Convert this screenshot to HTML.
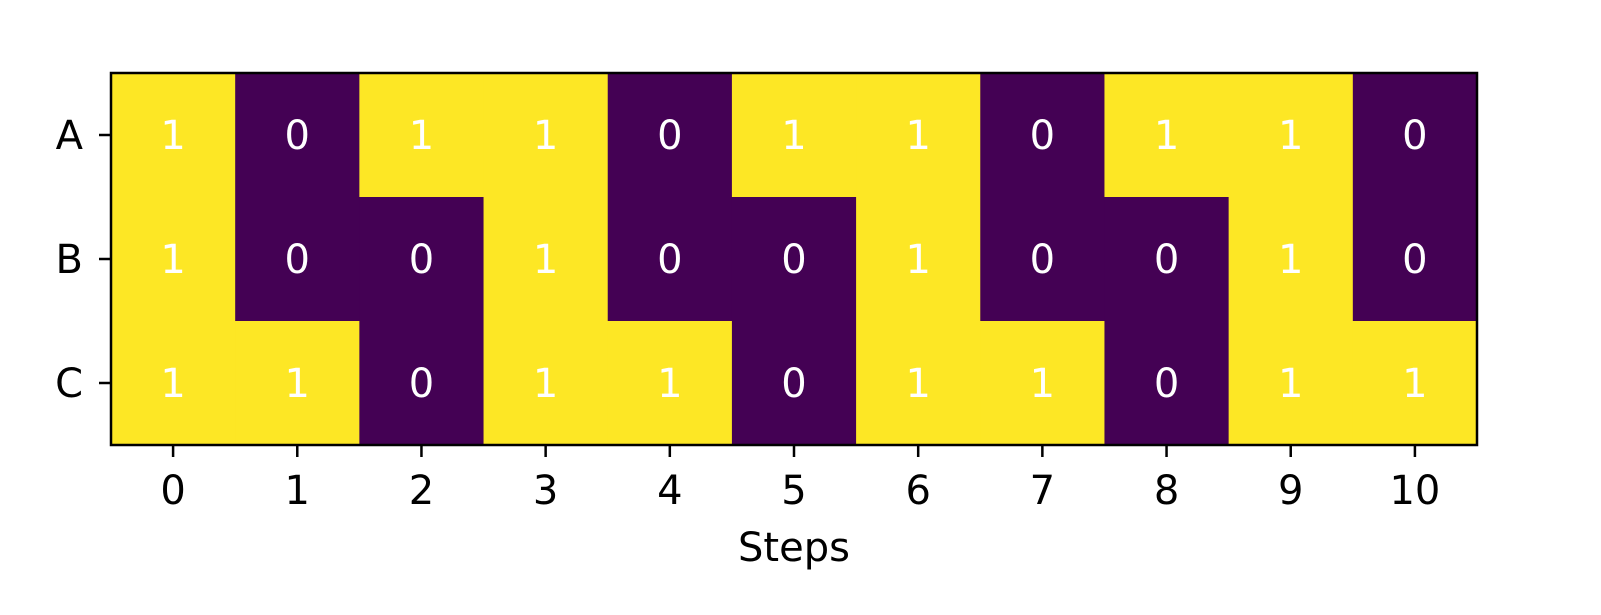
<!DOCTYPE html>
<html><head><meta charset="utf-8"><style>
body{margin:0;background:#fff;}
svg{display:block;font-family:"DejaVu Sans","Liberation Sans",sans-serif;}
</style></head><body>
<svg id="chart" width="1601" height="615" viewBox="0 0 1601 615"></svg>
<script>
const rows = ['A','B','C'];
const steps = [0,1,2,3,4,5,6,7,8,9,10];
const rowA = [1,0,1,1,0,1,1,0,1,1,0];
const rowB = [1,0,0,1,0,0,1,0,0,1,0];
const rowC = [1,1,0,1,1,0,1,1,0,1,1];
const values = [rowA,rowB,rowC];
const xLabel = 'Steps';

const L=111,R=1477,T=73,B=445;
const cw=(R-L)/steps.length, ch=(B-T)/rows.length;
const xs=i=>L+i*cw, ys=j=>T+j*ch;
const svg=document.getElementById('chart');
const NS='http://www.w3.org/2000/svg';
function mk(t,a){const e=document.createElementNS(NS,t);for(const k in a)e.setAttribute(k,a[k]);svg.appendChild(e);return e;}
values.forEach((row,j)=>row.forEach((v,i)=>{
  const r=mk('rect',{x:xs(i),y:ys(j),width:cw+0.5,height:ch+0.5,fill:v?'#fde725':'#440154'});
  
  
  const t=mk('text',{x:xs(i)+cw/2,y:ys(j)+ch/2+14,'text-anchor':'middle','font-size':40,fill:'#fff'});
  t.textContent=v;
  
  
}));
const f=mk('rect',{x:L,y:T,width:R-L,height:B-T,fill:'none',stroke:'#000','stroke-width':2.5});


steps.forEach((s,i)=>{
  const x=xs(i)+cw/2;
  const l=mk('line',{x1:x,x2:x,y1:B,y2:B+12,stroke:'#000','stroke-width':2.5});
  
  
  const t=mk('text',{x:x,y:504,'text-anchor':'middle','font-size':40,fill:'#000'});
  t.textContent=s;
  
  
});
rows.forEach((r,j)=>{
  const y=ys(j)+ch/2;
  const l=mk('line',{x1:L-12,x2:L,y1:y,y2:y,stroke:'#000','stroke-width':2.5});
  
  
  const t=mk('text',{x:L-28,y:y+14,'text-anchor':'end','font-size':40,fill:'#000'});
  t.textContent=r;
  
  
});
const xt=mk('text',{x:(L+R)/2,y:561,'text-anchor':'middle','font-size':40,fill:'#000'});
xt.textContent=xLabel;


</script>
</body></html>
